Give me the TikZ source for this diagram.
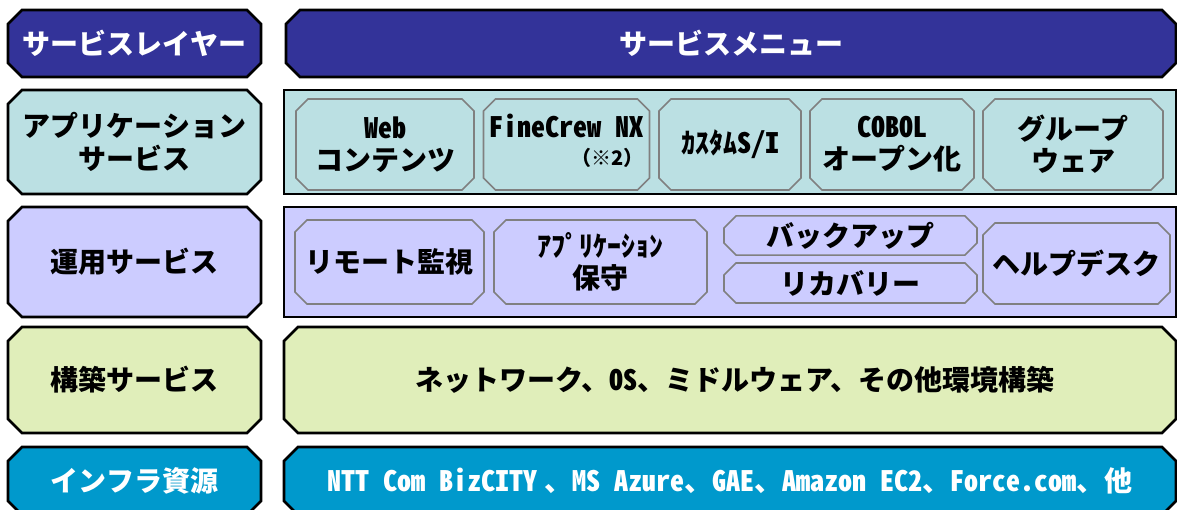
\documentclass[tikz,border=0pt]{standalone}
\usepackage{fontspec}
\setmainfont{Noto Sans CJK JP}
\newfontfamily\hw[CharacterWidth=Half]{Noto Sans CJK JP}
\usetikzlibrary{shapes.misc}

\definecolor{layerblue}{RGB}{51,51,153}
\definecolor{appcyan}{RGB}{187,224,227}
\definecolor{opslilac}{RGB}{204,204,255}
\definecolor{buildlime}{RGB}{224,238,186}
\definecolor{infrablue}{RGB}{0,153,204}
\definecolor{edgegray}{RGB}{128,128,128}

\tikzset{
  layer/.style={chamfered rectangle, chamfered rectangle xsep=7pt,
    chamfered rectangle ysep=7pt, draw=black, line width=2.6pt,
    inner sep=0pt, outer sep=0pt, align=center,
    font=\fontsize{28}{33}\selectfont\bfseries},
  item/.style={chamfered rectangle, chamfered rectangle xsep=6pt,
    chamfered rectangle ysep=6pt, draw=edgegray, line width=1.6pt,
    inner sep=0pt, outer sep=0pt, align=center,
    font=\fontsize{28}{32}\selectfont\bfseries},
}

\begin{document}
\begin{tikzpicture}[x=1pt,y=-1pt]
  \useasboundingbox (0,0) rectangle (1177,510);
  \clip (0,0) rectangle (1177,510);

  % left column: layer names
  \node[layer, fill=layerblue, text=white, minimum width=253, minimum height=67]
    (hdlayer) at (134.5,43.5) {サービスレイヤー};
  \node[layer, fill=appcyan, minimum width=253, minimum height=104]
    (applayer) at (134.5,142) {アプリケーション\\サービス};
  \node[layer, fill=opslilac, minimum width=253, minimum height=110]
    (opslayer) at (134.5,262) {運用サービス};
  \node[layer, fill=buildlime, minimum width=253, minimum height=106]
    (buildlayer) at (134.5,380) {構築サービス};
  \node[layer, fill=infrablue, text=white, minimum width=253, minimum height=68]
    (infralayer) at (134.5,481) {インフラ資源};

  % right column: service menu
  \node[layer, fill=layerblue, text=white, minimum width=890, minimum height=67]
    (hdmenu) at (731,43.5) {サービスメニュー};
  \node[layer, fill=appcyan, minimum width=892, minimum height=104]
    (appmenu) at (730,142) {};
  \node[layer, fill=opslilac, minimum width=892, minimum height=110]
    (opsmenu) at (730,262) {};
  \node[layer, fill=buildlime, minimum width=892, minimum height=106]
    (buildmenu) at (730,380) {\hspace*{10pt}ネットワーク、{\hw OS}、ミドルウェア、その他環境構築};
  \node[layer, fill=infrablue, text=white, minimum width=892, minimum height=68]
    (inframenu) at (730,481)
    {{\hw NTT Com BizCITY} 、{\hw MS Azure}、{\hw GAE}、{\hw Amazon EC2}、{\hw Force.com}、他};

  % application services
  \node[item, minimum width=178, minimum height=91] (web) at (385,144.5)
    {{\hw Web}\\コンテンツ};
  \node[item, minimum width=165, minimum height=91] (finecrew) at (566.5,144.5)
    {\begin{tabular}{@{}r@{}}{\hw FineCrew NX}\\[-4pt]{\fontsize{20}{22}\selectfont （※2）}\end{tabular}};
  \node[item, minimum width=142, minimum height=91] (custom) at (730,144.5)
    {ｶｽﾀﾑ{\hw S/I}};
  \node[item, minimum width=164, minimum height=91] (cobol) at (892,144.5)
    {{\hw COBOL}\\オープン化};
  \node[item, minimum width=180, minimum height=91] (groupware) at (1073,144.5)
    {グループ\\ウェア};

  % operation services
  \node[item, minimum width=189, minimum height=84] (monitor) at (389.5,262)
    {リモート監視};
  \node[item, minimum width=213, minimum height=84] (appcare) at (600.5,262)
    {ｱﾌﾟﾘｹｰｼｮﾝ\\保守};
  \node[item, minimum width=253, minimum height=39] (backup) at (850.5,235.5)
    {バックアップ};
  \node[item, minimum width=253, minimum height=40] (recovery) at (850.5,283)
    {リカバリー};
  \node[item, minimum width=187, minimum height=81] (helpdesk) at (1076.5,263.5)
    {ヘルプデスク};
\end{tikzpicture}
\end{document}
